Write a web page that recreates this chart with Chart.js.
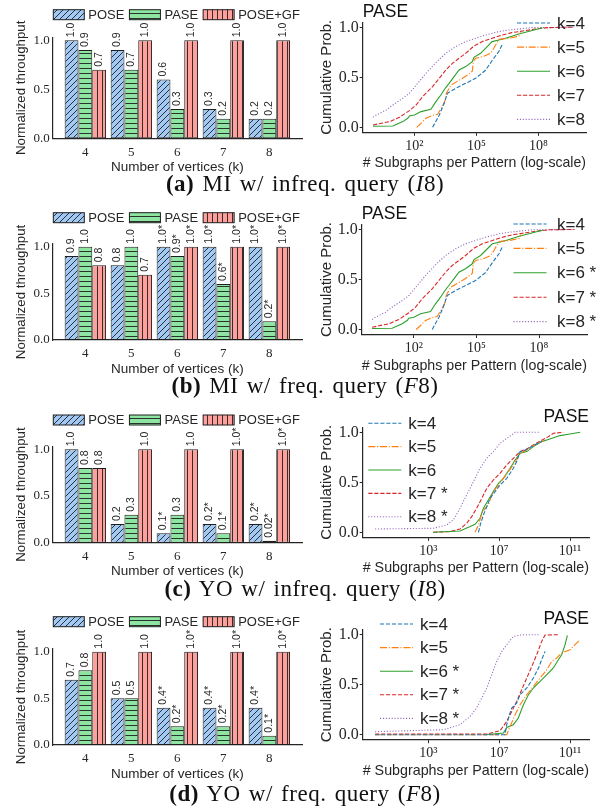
<!DOCTYPE html>
<html><head><meta charset="utf-8">
<script src="https://cdn.jsdelivr.net/npm/chart.js@4.4.1/dist/chart.umd.min.js"></script>
<style>
html,body{margin:0;padding:0;background:#fff;}
body{width:608px;height:809px;position:relative;overflow:hidden;}
canvas{position:absolute;}
.cap{position:absolute;left:0;width:610px;text-align:center;font-family:'Liberation Serif','Times New Roman',serif;font-size:23px;line-height:26px;color:#111;letter-spacing:0.5px;word-spacing:2px;white-space:nowrap;}
</style></head><body>
<canvas id="barA"></canvas><canvas id="cdfA"></canvas>
<canvas id="barB"></canvas><canvas id="cdfB"></canvas>
<canvas id="barC"></canvas><canvas id="cdfC"></canvas>
<canvas id="barD"></canvas><canvas id="cdfD"></canvas>
<div class="cap" style="top:171px"><b>(a)</b> MI w/ infreq. query (<i>I</i>8)</div>
<div class="cap" style="top:373px"><b>(b)</b> MI w/ freq. query (<i>F</i>8)</div>
<div class="cap" style="top:576px"><b>(c)</b> YO w/ infreq. query (<i>I</i>8)</div>
<div class="cap" style="top:781px"><b>(d)</b> YO w/ freq. query (<i>F</i>8)</div>
<script>
// ---------------- DATA ----------------
const categories = [4, 5, 6, 7, 8];
const barSeries = ['POSE', 'PASE', 'POSE+GF'];
const barYTicks = [0, 0.5, 1.0];
const cdfYTicks = [0, 0.5, 1.0];

// (a) MI infrequent query
const miInfPose = [1.0, 0.9, 0.6, 0.3, 0.2];
const miInfPase = [0.9, 0.7, 0.3, 0.2, 0.2];
const miInfGf   = [0.7, 1.0, 1.0, 1.0, 1.0];
const miInfPoseStar = [0, 0, 0, 0, 0];
const miInfPaseStar = [0, 0, 0, 0, 0];
const miInfGfStar   = [0, 0, 0, 0, 0];
// (b) MI frequent query
const miFrqPose = [0.9, 0.8, 1.0, 1.0, 1.0];
const miFrqPase = [1.0, 1.0, 0.9, 0.6, 0.2];
const miFrqGf   = [0.8, 0.7, 1.0, 1.0, 1.0];
const miFrqPoseStar = [0, 0, 1, 1, 1];
const miFrqPaseStar = [0, 0, 1, 1, 1];
const miFrqGfStar   = [0, 0, 1, 1, 1];
// (c) YO infrequent query
const yoInfPose = [1.0, 0.2, 0.1, 0.2, 0.2];
const yoInfPase = [0.8, 0.3, 0.3, 0.1, 0.02];
const yoInfGf   = [0.8, 1.0, 1.0, 1.0, 1.0];
const yoInfPoseStar = [0, 0, 1, 1, 1];
const yoInfPaseStar = [0, 0, 0, 1, 1];
const yoInfGfStar   = [0, 0, 0, 1, 1];
// (d) YO frequent query
const yoFrqPose = [0.7, 0.5, 0.4, 0.4, 0.4];
const yoFrqPase = [0.8, 0.5, 0.2, 0.2, 0.1];
const yoFrqGf   = [1.0, 1.0, 1.0, 1.0, 1.0];
const yoFrqPoseStar = [0, 0, 1, 1, 1];
const yoFrqPaseStar = [0, 0, 1, 1, 1];
const yoFrqGfStar   = [0, 0, 1, 1, 1];

// CDF legends and x ticks (exponents of 10)
const cdfLabelsA = ['k=4', 'k=5', 'k=6', 'k=7', 'k=8'];
const cdfLabelsB = ['k=4', 'k=5', 'k=6 *', 'k=7 *', 'k=8 *'];
const cdfLabelsC = ['k=4', 'k=5', 'k=6', 'k=7 *', 'k=8 *'];
const cdfLabelsD = ['k=4', 'k=5', 'k=6 *', 'k=7 *', 'k=8 *'];
const xTickExpMI = [2, 5, 8];
const xTickExpYO = [3, 7, 11];

// MI (panels a, b): log10(# subgraphs) and cumulative probability
const miK4Exp = [2.88, 3.20, 3.44, 3.60, 4.00, 4.48, 4.96, 5.44, 5.77, 6.09, 6.25];
const miK4Cdf = [0, 0.12, 0.24, 0.34, 0.39, 0.44, 0.49, 0.57, 0.67, 0.76, 0.83];
const miK5Exp = [2.11, 2.32, 2.56, 2.88, 3.12, 3.33, 3.49, 3.55, 3.76, 4.16, 4.48, 4.80, 4.85, 4.96, 5.36, 5.68, 5.84, 5.92, 6.09, 6.57, 7.05, 7.13];
const miK5Cdf = [0, 0.04, 0.09, 0.12, 0.13, 0.20, 0.27, 0.34, 0.42, 0.47, 0.51, 0.56, 0.66, 0.69, 0.71, 0.74, 0.79, 0.82, 0.88, 0.89, 0.91, 0.95];
const miK6Exp = [0, 0.96, 1.44, 1.68, 1.76, 2.00, 2.32, 2.80, 3.04, 3.28, 3.49, 3.68, 3.92, 4.16, 4.48, 4.80, 4.88, 5.20, 5.44, 5.76, 6.09, 6.41, 7.05, 7.93, 8.2];
const miK6Cdf = [0.01, 0.013, 0.057, 0.09, 0.113, 0.123, 0.157, 0.18, 0.257, 0.323, 0.39, 0.44, 0.507, 0.573, 0.607, 0.657, 0.70, 0.74, 0.79, 0.857, 0.873, 0.89, 0.933, 0.98, 0.995];
const miK7Exp = [0, 0.80, 1.28, 1.76, 2.08, 2.40, 2.88, 3.20, 3.52, 3.84, 4.16, 4.48, 4.88, 5.28, 5.76, 6.25, 6.72, 7.37, 7.85, 8.49, 9.29, 9.7];
const miK7Cdf = [0.023, 0.057, 0.10, 0.167, 0.223, 0.307, 0.407, 0.49, 0.573, 0.64, 0.69, 0.74, 0.813, 0.857, 0.89, 0.923, 0.947, 0.967, 0.983, 0.997, 1.0, 1.0];
const miK8Exp = [0, 0.16, 0.64, 0.96, 1.44, 1.76, 2.16, 2.56, 3.04, 3.52, 4.00, 4.48, 4.96, 5.44, 6.09, 6.57, 7.69, 9.7];
const miK8Cdf = [0.10, 0.123, 0.173, 0.223, 0.29, 0.34, 0.44, 0.54, 0.647, 0.74, 0.807, 0.857, 0.89, 0.923, 0.957, 0.973, 0.997, 1.0];

// YO infrequent (panel c)
const yoInfK4Exp = [5.83, 5.96, 6.11, 6.30, 6.49, 6.77, 7.05, 7.43, 7.80, 7.99, 8.18, 8.37, 8.93, 9.40];
const yoInfK4Cdf = [0, 0.09, 0.173, 0.257, 0.34, 0.407, 0.473, 0.54, 0.64, 0.707, 0.807, 0.813, 0.867, 0.907];
const yoInfK5Exp = [5.64, 5.83, 6.02, 6.20, 6.39, 6.58, 6.67, 6.96, 7.24, 7.52, 7.80, 8.08, 8.18, 8.56, 8.93, 9.50];
const yoInfK5Cdf = [0, 0.073, 0.19, 0.24, 0.273, 0.373, 0.407, 0.473, 0.54, 0.607, 0.673, 0.757, 0.79, 0.823, 0.867, 0.913];
const yoInfK6Exp = [3.28, 4.79, 5.36, 5.64, 5.92, 6.11, 6.39, 6.67, 6.96, 7.24, 7.62, 7.90, 8.18, 8.56, 8.93, 9.40, 9.69, 10.44, 11.0, 11.57];
const yoInfK6Cdf = [0, 0.013, 0.057, 0.08, 0.14, 0.24, 0.323, 0.407, 0.49, 0.54, 0.64, 0.723, 0.79, 0.807, 0.857, 0.907, 0.923, 0.967, 0.983, 1.0];
const yoInfK7Exp = [3.28, 4.23, 4.79, 5.17, 5.45, 5.73, 6.02, 6.30, 6.67, 7.05, 7.43, 7.80, 8.18, 8.56, 8.93, 9.31, 9.69, 10.06, 10.63];
const yoInfK7Cdf = [0, 0.007, 0.033, 0.09, 0.157, 0.24, 0.34, 0.44, 0.523, 0.59, 0.673, 0.74, 0.807, 0.833, 0.873, 0.913, 0.947, 0.99, 1.0];
const yoInfK8Exp = [0, 3.28, 4.04, 4.41, 4.79, 5.07, 5.36, 5.64, 5.92, 6.30, 6.67, 7.05, 7.43, 7.71, 7.90, 9.31];
const yoInfK8Cdf = [0.033, 0.04, 0.073, 0.123, 0.24, 0.34, 0.44, 0.54, 0.64, 0.74, 0.807, 0.89, 0.94, 0.973, 1.0, 1.0];

// YO frequent (panel d)
const yoFrqK4Exp = [0, 7.33, 7.43, 7.58, 7.71, 7.99, 8.18, 8.56, 8.93, 9.22, 9.40, 9.59];
const yoFrqK4Cdf = [0, 0, 0.1, 0.2, 0.267, 0.317, 0.40, 0.467, 0.567, 0.667, 0.75, 0.833];
const yoFrqK5Exp = [0, 7.43, 7.62, 7.90, 8.18, 8.56, 8.93, 9.31, 9.69, 9.97, 10.25, 10.53, 11.0, 11.57];
const yoFrqK5Cdf = [0, 0, 0.083, 0.2, 0.3, 0.4, 0.483, 0.567, 0.65, 0.733, 0.767, 0.817, 0.85, 0.95];
const yoFrqK6Exp = [6.20, 7.24, 7.43, 7.80, 8.08, 8.37, 8.65, 8.93, 9.31, 9.69, 10.06, 10.34, 10.53, 10.72, 10.85];
const yoFrqK6Cdf = [0, 0.017, 0.073, 0.1, 0.167, 0.3, 0.4, 0.467, 0.533, 0.6, 0.667, 0.75, 0.8, 0.9, 0.993];
const yoFrqK7Exp = [0, 6.30, 7.05, 7.43, 7.71, 7.99, 8.27, 8.56, 8.84, 9.12, 9.40, 9.59, 10.34];
const yoFrqK7Cdf = [0.007, 0.007, 0.04, 0.133, 0.233, 0.333, 0.45, 0.567, 0.683, 0.8, 0.933, 0.997, 1.0];
const yoFrqK8Exp = [0, 3.85, 4.79, 5.36, 5.73, 6.02, 6.30, 6.58, 6.86, 7.15, 7.43, 7.80, 8.37, 9.31];
const yoFrqK8Cdf = [0.03, 0.05, 0.1, 0.183, 0.267, 0.367, 0.467, 0.6, 0.733, 0.833, 0.9, 0.983, 1.0, 1.0];

// ---------------- STYLE ----------------
const SANS = "'Liberation Sans', Arial, sans-serif";
const SERIF = "'Liberation Serif', 'Times New Roman', serif";
const INK = '#262626';
Chart.defaults.font.family = SANS;
Chart.defaults.color = INK;

function hatch(bg, kind) {
  const s = kind === 'diag' ? 6 : 5;
  const c = document.createElement('canvas'); c.width = s; c.height = s;
  const g = c.getContext('2d');
  g.fillStyle = bg; g.fillRect(0, 0, s, s);
  g.strokeStyle = '#1e1e1e'; g.lineWidth = 0.9;
  g.beginPath();
  if (kind === 'diag') {
    g.moveTo(-1, s + 1); g.lineTo(s + 1, -1);
    g.moveTo(-1, 1); g.lineTo(1, -1);
    g.moveTo(s - 1, s + 1); g.lineTo(s + 1, s - 1);
  } else if (kind === 'h') { g.moveTo(0, s / 2); g.lineTo(s, s / 2); }
  else { g.moveTo(s / 2, 0); g.lineTo(s / 2, s); }
  g.stroke();
  return g.createPattern(c, 'repeat');
}
const barFills = [hatch('#a1c9f4', 'diag'), hatch('#8de5a1', 'h'), hatch('#ff9f9b', 'v')];
const cdfColors = ['#1f77b4', '#ff7f0e', '#2ca02c', '#d62728', '#9467bd'];
const LW = 1.1;
const cdfDashes = [[4.2, 1.8], [7, 1.8, 1.1, 1.8], [], [4.2, 1.8], [1.1, 1.8]];
const SUPD = '⁰¹²³⁴⁵⁶⁷⁸⁹';
const sup = n => String(n).split('').map(d => SUPD[+d]).join('');
const fmt = v => (v > 0 && v < 0.1) ? v.toFixed(2) : v.toFixed(1);

function setupCanvas(id, box) {
  const cv = document.getElementById(id);
  cv.width = box.w; cv.height = box.h;
  cv.style.left = box.x + 'px'; cv.style.top = box.y + 'px';
  cv.style.width = box.w + 'px'; cv.style.height = box.h + 'px';
  return cv;
}

const barValueLabels = {
  id: 'barValueLabels',
  afterDatasetsDraw(chart) {
    const ctx = chart.ctx;
    ctx.save();
    ctx.font = `10.5px ${SANS}`; ctx.fillStyle = INK;
    ctx.textAlign = 'left'; ctx.textBaseline = 'middle';
    chart.data.datasets.forEach((ds, i) => {
      chart.getDatasetMeta(i).data.forEach((el, j) => {
        ctx.save(); ctx.translate(el.x, el.y - 3); ctx.rotate(-Math.PI / 2);
        ctx.fillText(ds.valueLabels[j], 0, 0); ctx.restore();
      });
    });
    ctx.restore();
  }
};

function makeBar(id, g, vals, stars) {
  const box = { x: 0, y: Math.round(g.legendY - 14), w: 310 };
  box.h = Math.round(g.bottom + 36.5 - box.y);
  const area = { l: 52.7, r: 302, t: g.bottom - 1.03 * g.unit, b: g.bottom };
  const cv = setupCanvas(id, box);
  const legend = {
    id: 'barLegend',
    afterDraw(chart) {
      const ctx = chart.ctx; ctx.save();
      ctx.font = `13px ${SANS}`; ctx.textBaseline = 'middle'; ctx.textAlign = 'left';
      let x = 53.3 - box.x; const y = g.legendY - box.y;
      chart.data.datasets.forEach(ds => {
        ctx.fillStyle = ds.backgroundColor; ctx.fillRect(x, y - 5, 31, 10);
        ctx.strokeStyle = '#1e1e1e'; ctx.lineWidth = 1; ctx.strokeRect(x, y - 5, 31, 10);
        ctx.fillStyle = INK; ctx.fillText(ds.label, x + 35, y + 0.5);
        x += 35 + ctx.measureText(ds.label).width + 5;
      });
      ctx.restore();
    }
  };
  return new Chart(cv, {
    type: 'bar',
    data: {
      datasets: barSeries.map((name, i) => ({
        label: name,
        data: categories.map((c, j) => ({ x: c, y: vals[i][j] })),
        valueLabels: vals[i].map((v, j) => fmt(v) + (stars[i][j] ? '*' : '')),
        backgroundColor: barFills[i], borderColor: '#1e1e1e', borderWidth: 1, borderSkipped: false,
        categoryPercentage: 0.9, barPercentage: 1.0
      }))
    },
    options: {
      responsive: false, animation: false, devicePixelRatio: 1,
      layout: { padding: { left: 0, top: area.t - box.y, right: box.x + box.w - area.r, bottom: 0 } },
      plugins: { legend: { display: false }, tooltip: { enabled: false } },
      scales: {
        x: {
          type: 'linear', min: 3.29, max: 8.71, bounds: 'data', offset: false,
          afterBuildTicks: s => { s.ticks = categories.map(v => ({ value: v })); },
          ticks: { callback: v => String(v), font: { family: SERIF, size: 13 }, color: INK, padding: 6, maxRotation: 0, autoSkip: false },
          grid: { display: false, drawTicks: false, offset: false },
          border: { display: true, color: INK, width: 1.2 },
          title: { display: true, text: 'Number of vertices (k)', font: { family: SANS, size: 13.5 }, color: INK, padding: 0 },
          afterFit: s => { s.height = box.y + box.h - area.b; }
        },
        y: {
          type: 'linear', min: 0, max: 1.03, bounds: 'data',
          afterBuildTicks: s => { s.ticks = barYTicks.map(v => ({ value: v })); },
          ticks: { callback: v => v.toFixed(1), font: { family: SERIF, size: 13 }, color: INK, padding: 3 },
          grid: { display: false, drawTicks: false },
          border: { display: true, color: INK, width: 1.2 },
          title: { display: true, text: 'Normalized throughput', font: { family: SANS, size: 13.3 }, color: INK, padding: { top: 13, bottom: 0 } },
          afterFit: s => { s.width = area.l - box.x; }
        }
      }
    },
    plugins: [barValueLabels, legend]
  });
}

function makeCdf(id, g, curves, labels, xr, xTickExp, titleAlign, lg) {
  const box = { x: 318, y: Math.floor(g.t - 22), w: 290 };
  box.h = Math.round(g.b + 40 - box.y);
  const cv = setupCanvas(id, box);
  const legend = {
    id: 'cdfLegend',
    afterDatasetsDraw(chart) {
      const ctx = chart.ctx; ctx.save();
      ctx.font = `17px ${SANS}`; ctx.textBaseline = 'middle'; ctx.textAlign = 'left';
      chart.data.datasets.forEach((ds, i) => {
        const y = lg.y0 + i * lg.dy - box.y;
        ctx.strokeStyle = ds.borderColor; ctx.lineWidth = ds.borderWidth;
        ctx.setLineDash(ds.borderDash);
        ctx.beginPath(); ctx.moveTo(lg.x0 - box.x, y); ctx.lineTo(lg.x0 - box.x + 33, y); ctx.stroke();
        ctx.setLineDash([]);
        ctx.fillStyle = INK; ctx.fillText(ds.label, lg.tx - box.x, y + 1);
      });
      ctx.restore();
    }
  };
  return new Chart(cv, {
    type: 'line',
    data: {
      datasets: curves.map((cv2, i) => ({
        label: labels[i],
        data: cv2[0].map((e, j) => ({ x: Math.pow(10, e), y: cv2[1][j] })),
        borderColor: cdfColors[i], borderWidth: LW, borderDash: cdfDashes[i],
        pointRadius: 0, fill: false, tension: 0
      }))
    },
    options: {
      responsive: false, animation: false, devicePixelRatio: 1,
      layout: { padding: { left: 0, top: g.t - box.y - 21, right: box.x + box.w - g.r, bottom: 0 } },
      plugins: {
        legend: { display: false }, tooltip: { enabled: false },
        title: { display: true, text: 'PASE', align: titleAlign, fullSize: false, color: '#111',
                 font: { family: SANS, size: 17.5, weight: 'normal', lineHeight: 1.2 }, padding: { top: 0, bottom: 0 } }
      },
      scales: {
        x: {
          type: 'logarithmic', min: Math.pow(10, xr[0]), max: Math.pow(10, xr[1]), bounds: 'data', offset: false,
          afterBuildTicks: s => { s.ticks = xTickExp.map(e => ({ value: Math.pow(10, e) })); },
          ticks: { callback: v => '10' + sup(Math.round(Math.log10(v))), font: { family: SERIF, size: 14 }, color: INK, padding: 2, maxRotation: 0, autoSkip: false },
          grid: { display: true, drawOnChartArea: false, drawTicks: true, tickLength: 3.5, color: INK, lineWidth: 1 },
          border: { display: true, color: INK, width: 1.2 },
          title: { display: true, text: '# Subgraphs per Pattern (log-scale)', font: { family: SANS, size: 15 }, color: INK, padding: 0 },
          afterFit: s => { s.height = box.y + box.h - g.b; }
        },
        y: {
          type: 'linear', min: -0.05, max: 1.05, bounds: 'data',
          afterBuildTicks: s => { s.ticks = cdfYTicks.map(v => ({ value: v })); },
          ticks: { callback: v => Math.abs(v).toFixed(1), font: { family: SERIF, size: 16 }, color: INK, padding: 1 },
          grid: { display: true, drawOnChartArea: false, drawTicks: true, tickLength: 3, color: INK, lineWidth: 1 },
          border: { display: true, color: INK, width: 1.2 },
          title: { display: true, text: 'Cumulative Prob.', font: { family: SANS, size: 15 }, color: INK, padding: 0 },
          afterFit: s => { s.width = g.l - box.x; }
        }
      }
    },
    plugins: [legend]
  });
}

// ---------------- BUILD ----------------
const miCurves = [[miK4Exp, miK4Cdf], [miK5Exp, miK5Cdf], [miK6Exp, miK6Cdf], [miK7Exp, miK7Cdf], [miK8Exp, miK8Cdf]];
const yoInfCurves = [[yoInfK4Exp, yoInfK4Cdf], [yoInfK5Exp, yoInfK5Cdf], [yoInfK6Exp, yoInfK6Cdf], [yoInfK7Exp, yoInfK7Cdf], [yoInfK8Exp, yoInfK8Cdf]];
const yoFrqCurves = [[yoFrqK4Exp, yoFrqK4Cdf], [yoFrqK5Exp, yoFrqK5Cdf], [yoFrqK6Exp, yoFrqK6Cdf], [yoFrqK7Exp, yoFrqK7Cdf], [yoFrqK8Exp, yoFrqK8Cdf]];

makeBar('barA', { legendY: 14.7, bottom: 138.3, unit: 98 },
  [miInfPose, miInfPase, miInfGf], [miInfPoseStar, miInfPaseStar, miInfGfStar]);
makeBar('barB', { legendY: 217.7, bottom: 340, unit: 93.3 },
  [miFrqPose, miFrqPase, miFrqGf], [miFrqPoseStar, miFrqPaseStar, miFrqGfStar]);
makeBar('barC', { legendY: 420, bottom: 542.7, unit: 93.4 },
  [yoInfPose, yoInfPase, yoInfGf], [yoInfPoseStar, yoInfPaseStar, yoInfGfStar]);
makeBar('barD', { legendY: 621.7, bottom: 745, unit: 93.3 },
  [yoFrqPose, yoFrqPase, yoFrqGf], [yoFrqPoseStar, yoFrqPaseStar, yoFrqGfStar]);

makeCdf('cdfA', { l: 362.7, r: 586, t: 22.3, b: 132.3 }, miCurves, cdfLabelsA, [-0.5, 10.3], xTickExpMI, 'start',
  { x0: 517, tx: 557, y0: 23, dy: 24.1 });
makeCdf('cdfB', { l: 361.7, r: 587, t: 224.5, b: 334.5 }, miCurves, cdfLabelsB, [-0.5, 10.3], xTickExpMI, 'start',
  { x0: 513.5, tx: 557, y0: 224, dy: 24.4 });
makeCdf('cdfC', { l: 362.7, r: 589, t: 427.3, b: 537.3 }, yoInfCurves, cdfLabelsC, [-0.7, 12.07], xTickExpYO, 'end',
  { x0: 368.3, tx: 408.3, y0: 423.3, dy: 23.35 });
makeCdf('cdfD', { l: 362.7, r: 589, t: 629.7, b: 739.7 }, yoFrqCurves, cdfLabelsD, [-0.7, 12.07], xTickExpYO, 'end',
  { x0: 380, tx: 420, y0: 624, dy: 23.6 });
</script>
</body></html>
